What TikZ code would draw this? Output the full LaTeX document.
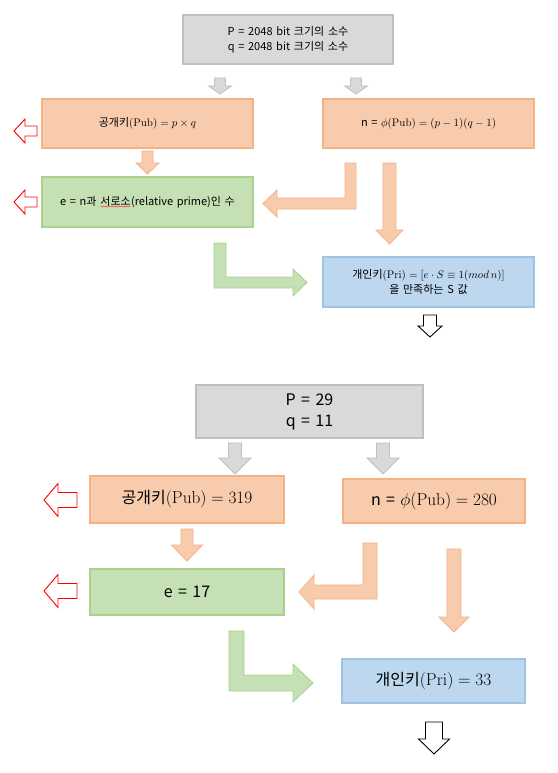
\documentclass[tikz,border=0pt]{standalone}
\usepackage{amsmath,amssymb}
\usepackage[no-math]{fontspec}
\setmainfont[WordSpace=1.5]{Noto Sans CJK KR}
\usepackage{xcolor}
\usetikzlibrary{calc,positioning,decorations.pathmorphing}
\definecolor{grayfill}{HTML}{D9D9D9}
\definecolor{grayline}{HTML}{BFBFBF}
\definecolor{orangefill}{HTML}{F8CBAD}
\definecolor{orangeline}{HTML}{F4B183}
\definecolor{greenfill}{HTML}{C5E0B4}
\definecolor{greenline}{HTML}{A9D18E}
\definecolor{bluefill}{HTML}{BDD7EE}
\definecolor{blueline}{HTML}{9DC3E6}
\tikzset{
	pics/blockdn/.style args={#1/#2/#3/#4}{code={
			\draw[pic actions] (-#3/2,0) -- (#3/2,0) -- (#3/2,#1-#4) -- (#2/2,#1-#4) -- (0,#1) -- (-#2/2,#1-#4) -- (-#3/2,#1-#4) -- cycle;
		}},
	pics/blockleft/.style args={#1/#2/#3/#4}{code={
			\draw[pic actions] (0,-#3/2) -- (0,#3/2) -- (-#1+#4,#3/2) -- (-#1+#4,#2/2) -- (-#1,0) -- (-#1+#4,-#2/2) -- (-#1+#4,-#3/2) -- cycle;
		}}
}
% red wavy spell-check mark under a word
\newcommand{\spellmark}[1]{\tikz[baseline=(w.base)]{\node[inner sep=0pt, outer sep=0pt, minimum width=0pt, minimum height=0pt, draw=none, fill=none, align=left] (w) {#1};
		\draw[red!80, fill=none, line width=0.4pt, decorate, decoration={snake, amplitude=0.5pt, segment length=2.2pt}] ([yshift=-1.2pt]w.base west) -- ([yshift=-1.2pt]w.base east);}}

\begin{document}
\begin{tikzpicture}[x=1pt, y=-1pt,
		box/.style={line width=1.5pt, inner sep=0pt, align=center},
		graybox/.style={box, draw=grayline, fill=grayfill},
		orangebox/.style={box, draw=orangeline, fill=orangefill},
		greenbox/.style={box, draw=greenline, fill=greenfill},
		bluebox/.style={box, draw=blueline, fill=bluefill},
		small/.style={font=\fontsize{11}{15}\selectfont},
		big/.style={font=\fontsize{16}{21}\selectfont},
		grayarrow/.style={draw=grayline, fill=grayfill, line width=0.8pt},
		orangearrow/.style={draw=orangeline, fill=orangefill, line width=0.8pt},
		greenarrow/.style={draw=greenline, fill=greenfill, line width=0.8pt},
		redarrow/.style={draw=red, fill=white, line width=0.9pt},
		blackarrow/.style={draw=black, fill=white, line width=0.9pt}]
	\useasboundingbox (0,0) rectangle (557,773);

	% general case
	\node[graybox, small, minimum width=210pt, minimum height=49pt] (prime) at (288,39.5) {P = 2048 bit 크기의 소수\\q = 2048 bit 크기의 소수};
	\node[orangebox, small, minimum width=211pt, minimum height=49pt] (pub) at (147.5,123.5) {공개키$(\mathrm{Pub}) = p \times q$};
	\node[orangebox, small, minimum width=211pt, minimum height=49pt] (phi) at (428.5,123.5) {n = $\phi(\mathrm{Pub}) = (p-1)(q-1)$};
	\node[greenbox, small, minimum width=211pt, minimum height=50pt] (ekey) at (147.5,202) {e = n과 \spellmark{서로소}(relative prime)인 수};
	\node[bluebox, small, minimum width=211pt, minimum height=50pt] (pri) at (428.5,282) {개인키$(\mathrm{Pri}) = [e \cdot S \equiv 1(mod\, n)]$\\을 만족하는 S 값};

	\pic[grayarrow] at (220,78) {blockdn=16/23/11/8};
	\pic[grayarrow] at (356,78) {blockdn=16/23/11/8};
	\pic[orangearrow] at (147.5,151) {blockdn=23/23/11/11};
	\pic[orangearrow] at (389.5,163) {blockdn=81/27/13/14};
	\pic[blackarrow] at (430,315) {blockdn=22/24/13/11};
	\pic[redarrow] at (37,131) {blockleft=23/24/10/11};
	\pic[redarrow] at (37,202) {blockleft=23/24/10/11};
	\draw[orangearrow] (345,163) -- (356,163) -- (356,209) -- (277,209) -- (277,217) -- (263,203.5) -- (277,190) -- (277,198) -- (345,198) -- cycle;
	\draw[greenarrow] (214,243) -- (226,243) -- (226,277) -- (293,277) -- (293,269) -- (307,282.5) -- (293,296) -- (293,288) -- (214,288) -- cycle;

	% example with small primes
	\node[graybox, big, minimum width=227pt, minimum height=53pt] (prime2) at (309.5,411.5) {P = 29\\q = 11};
	\node[orangebox, big, minimum width=194pt, minimum height=47pt] (pub2) at (187,499.5) {공개키$(\mathrm{Pub}) = 319$};
	\node[orangebox, big, minimum width=182pt, minimum height=44pt] (phi2) at (434,501) {n = $\phi(\mathrm{Pub}) = 280$};
	\node[greenbox, big, minimum width=194pt, minimum height=46pt] (ekey2) at (187,592) {e = 17};
	\node[bluebox, big, minimum width=183pt, minimum height=44pt] (pri2) at (433.5,681) {개인키$(\mathrm{Pri}) = 33$};

	\pic[grayarrow] at (235,443) {blockdn=31/32/13/16};
	\pic[grayarrow] at (383,443) {blockdn=31/32/13/16};
	\pic[orangearrow] at (187,529) {blockdn=32/31/12/16};
	\pic[orangearrow] at (454,549) {blockdn=83/30/14/15};
	\pic[blackarrow] at (434,722) {blockdn=32/31/17/15};
	\pic[redarrow] at (77,500) {blockleft=33/33/15/14};
	\pic[redarrow] at (77,591) {blockleft=33/33/15/14};
	\draw[orangearrow] (363,543) -- (377,543) -- (377,599) -- (314,599) -- (314,609) -- (299,592) -- (314,575) -- (314,585) -- (363,585) -- cycle;
	\draw[greenarrow] (229,631) -- (244,631) -- (244,675) -- (293,675) -- (293,664) -- (313,683) -- (293,702) -- (293,691) -- (229,691) -- cycle;
\end{tikzpicture}
\end{document}
